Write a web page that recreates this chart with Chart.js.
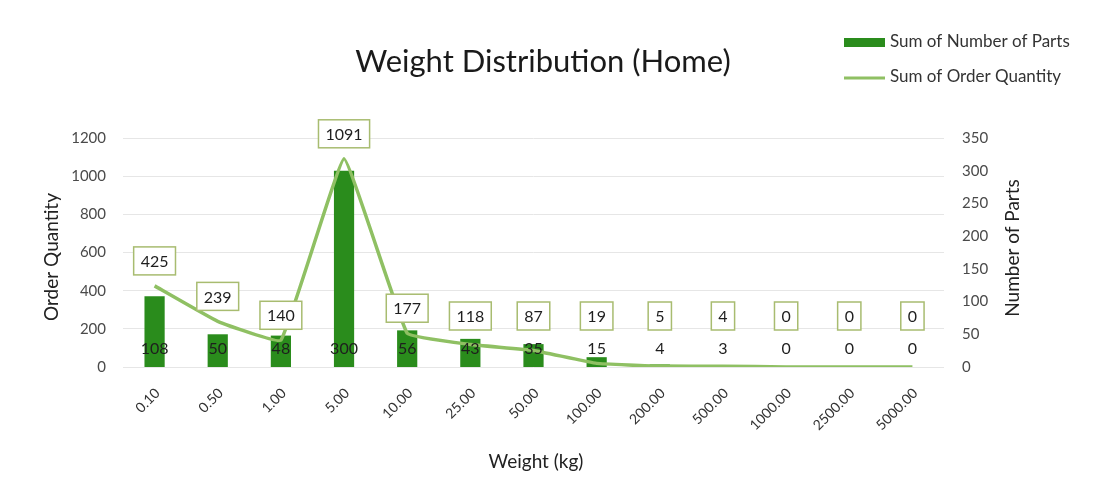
<!DOCTYPE html>
<html>
<head>
<meta charset="utf-8">
<script src="https://cdn.jsdelivr.net/npm/chart.js@4.4.0/dist/chart.umd.min.js"></script>
<style>
  html, body { margin: 0; padding: 0; background: #fff; }
  #wrap { width: 1102px; height: 477px; }
</style>
</head>
<body>
<div id="wrap"><canvas id="myChart" width="1102" height="477"></canvas></div>
<script>
// chart data
const weights = ['0.10', '0.50', '1.00', '5.00', '10.00', '25.00', '50.00', '100.00', '200.00', '500.00', '1000.00', '2500.00', '5000.00'];
const numberOfParts = [108, 50, 48, 300, 56, 43, 35, 15, 4, 3, 0, 0, 0];
const orderQuantity = [425, 239, 140, 1091, 177, 118, 87, 19, 5, 4, 0, 0, 0];

const barColor = '#2a8c1c';
const lineColor = '#8fc063';
const boxColor = '#a8bc70';
const FONT = 'Lato';

Chart.defaults.font.family = FONT;

//draws title, legend, axis titles and the data labels
const extrasPlugin = {
  id: 'extras',
  afterDatasetsDraw(chart) {
    const ctx = chart.ctx;
    const lineMeta = chart.getDatasetMeta(0);
    const barMeta = chart.getDatasetMeta(1);
    ctx.save();
    ctx.textAlign = 'center';
    ctx.textBaseline = 'middle';

    // bar labels, inside base
    ctx.font = '16px ' + FONT;
    ctx.fillStyle = '#1e1e1e';
    barMeta.data.forEach((bar, i) => {
      ctx.fillText(String(numberOfParts[i]), bar.x, bar.base - 18);
    });

    // boxed line labels
    lineMeta.data.forEach((pt, i) => {
      const txt = String(orderQuantity[i]);
      const y = Math.min(pt.y - 25, 316);
      const w = ctx.measureText(txt).width + 14;
      const h = 28;
      ctx.fillStyle = '#fff';
      ctx.fillRect(pt.x - w / 2, y - h / 2, w, h);
      ctx.strokeStyle = boxColor;
      ctx.lineWidth = 1.5;
      ctx.strokeRect(pt.x - w / 2, y - h / 2, w, h);
      ctx.fillStyle = '#1e1e1e';
      ctx.fillText(txt, pt.x, y + 1);
    });
    ctx.restore();
  },
  afterDraw(chart) {
    const ctx = chart.ctx;
    ctx.save();
    ctx.textBaseline = 'middle';

    // title
    ctx.textAlign = 'center';
    ctx.fillStyle = '#1a1a1a';
    ctx.font = '31px ' + FONT;
    ctx.fillText('Weight Distribution (Home)', 543, 62);

    // legend
    ctx.textAlign = 'left';
    ctx.font = '17px ' + FONT;
    ctx.fillStyle = barColor;
    ctx.fillRect(844, 38, 41, 9);
    ctx.fillStyle = '#333';
    ctx.fillText('Sum of Number of Parts', 890, 42);
    ctx.strokeStyle = lineColor;
    ctx.lineWidth = 3;
    ctx.beginPath();
    ctx.moveTo(844, 78);
    ctx.lineTo(885, 78);
    ctx.stroke();
    ctx.fillText('Sum of Order Quantity', 890, 77);

    // axis titles
    ctx.textAlign = 'center';
    ctx.font = '19px ' + FONT;
    ctx.fillStyle = '#222';
    ctx.fillText('Weight (kg)', 536, 462);
    ctx.translate(52, 257);
    ctx.rotate(-Math.PI / 2);
    ctx.fillText('Order Quantity', 0, 0);
    ctx.rotate(Math.PI / 2);
    ctx.translate(1013 - 52, 248 - 257);
    ctx.rotate(-Math.PI / 2);
    ctx.fillText('Number of Parts', 0, 0);
    ctx.restore();
  }
};

const ctx1 = document.getElementById('myChart');

new Chart(ctx1, {
  data: {
    labels: weights,
    datasets: [{
      type: 'line',
      label: 'Sum of Order Quantity',
      data: orderQuantity,
      yAxisID: 'yOrder',
      borderColor: lineColor,
      borderWidth: 3.5,
      pointRadius: 0,
      tension: 0.08,
      order: 1
    }, {
      type: 'bar',
      label: 'Sum of Number of Parts',
      data: numberOfParts,
      yAxisID: 'yParts',
      backgroundColor: barColor,
      barPercentage: 0.32,
      categoryPercentage: 1,
      order: 2
    }]
  },
  options: {
    responsive: false,
    animation: false,
    layout: { padding: { top: 138, left: 0, right: 0, bottom: 0 } },
    plugins: {
      legend: { display: false },
      title: { display: false },
      tooltip: { enabled: false }
    },
    scales: {
      x: {
        grid: { display: false },
        border: { display: false },
        ticks: { minRotation: 45, maxRotation: 45, color: '#333', font: { size: 14 }, padding: 10, labelOffset: 3 },
        afterFit(s) { s.height = 110; }
      },
      yOrder: {
        position: 'left',
        min: 0,
        max: 1200,
        ticks: { stepSize: 200, padding: 17, color: '#4a4a4a', font: { size: 15 }, callback: (v) => String(v) },
        grid: { color: '#e6e6e6', drawTicks: false },
        border: { display: false },
        afterFit(s) { s.width = 123; }
      },
      yParts: {
        position: 'right',
        min: 0,
        max: 350,
        ticks: { stepSize: 50, padding: 18, color: '#4a4a4a', font: { size: 15 } },
        grid: { display: false, drawTicks: false },
        border: { display: false },
        afterFit(s) { s.width = 158; }
      }
    }
  },
  plugins: [extrasPlugin]
});
</script>
</body>
</html>
